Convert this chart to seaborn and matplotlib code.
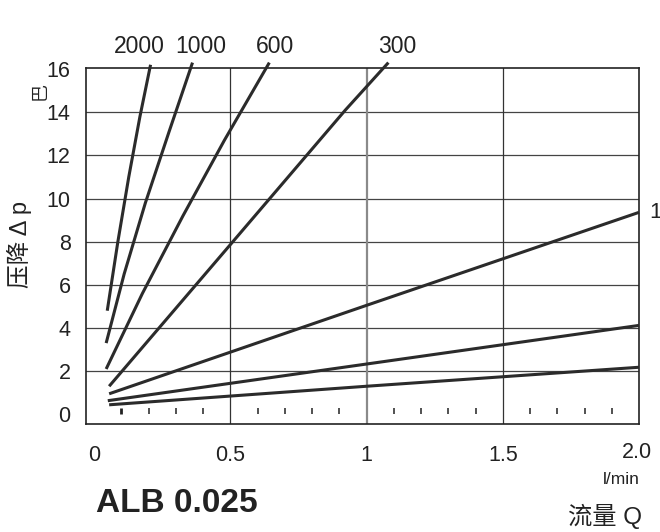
import matplotlib
matplotlib.use("Agg")
import matplotlib.pyplot as plt
import seaborn as sns
import pandas as pd

# ---- data ----
series_names = ["2000", "1000", "600", "300", "100", "50", "25"]
flow_2000 = [0.048, 0.087, 0.127, 0.168, 0.207]
dp_2000 = [4.8, 8.0, 11.0, 13.8, 16.2]
flow_1000 = [0.044, 0.110, 0.188, 0.275, 0.361]
dp_1000 = [3.3, 6.5, 9.8, 13.1, 16.3]
flow_600 = [0.044, 0.177, 0.326, 0.478, 0.643]
dp_600 = [2.1, 5.6, 9.2, 12.7, 16.3]
flow_300 = [0.055, 0.482, 0.922, 1.080]
dp_300 = [1.3, 7.6, 14.1, 16.3]
flow_100 = [0.055, 1.0, 2.0]
dp_100 = [0.95, 5.05, 9.36]
flow_50 = [0.05, 1.0, 2.0]
dp_50 = [0.63, 2.33, 4.12]
flow_25 = [0.055, 1.0, 2.0]
dp_25 = [0.44, 1.30, 2.18]

top_labels = ["2000", "1000", "600", "300"]
top_label_x = [0.166, 0.391, 0.664, 1.114]
right_label = "1"

yticks = [0, 2, 4, 6, 8, 10, 12, 14, 16]
xticks = [0, 0.5, 1, 1.5]
xtick_labels = ["0", "0.5", "1", "1.5"]
minor_marks = [0.1, 0.2, 0.3, 0.4, 0.6, 0.7, 0.8, 0.9,
               1.1, 1.2, 1.3, 1.4, 1.6, 1.7, 1.8, 1.9]

flows = [flow_2000, flow_1000, flow_600, flow_300, flow_100, flow_50, flow_25]
dps = [dp_2000, dp_1000, dp_600, dp_300, dp_100, dp_50, dp_25]
rows = []
for name, fx, dy in zip(series_names, flows, dps):
    for i, (a, b) in enumerate(zip(fx, dy)):
        rows.append({"series": name, "order": i, "Q": a, "dp": b})
df = pd.DataFrame(rows)

# ---- style ----
sns.set_theme(style="white")
plt.rcParams["font.family"] = ["Liberation Sans", "Noto Sans CJK SC", "DejaVu Sans"]

W, H = 660, 532
fig = plt.figure(figsize=(W / 100, H / 100), dpi=100)
ax = fig.add_axes([86 / W, (H - 424) / H, (639 - 86) / W, (424 - 68) / H])

line_color = "#2b2b2b"
sns.lineplot(data=df, x="Q", y="dp", hue="series", units="series",
             estimator=None, sort=False,
             palette={n: line_color for n in series_names},
             legend=False, linewidth=2.2, ax=ax)
for ln in ax.get_lines():
    ln.set_clip_on(False)
    ln.set_solid_capstyle("butt")
    ln.set_solid_joinstyle("round")
    ln.set_zorder(5)

ax.set_xlim(-0.03, 2.0)
ax.set_ylim(-0.45, 16.05)

# grid
for yv in yticks[1:-1]:
    ax.axhline(yv, color="#444444", lw=0.9, zorder=1)
for xv in [0.5, 1.5]:
    ax.axvline(xv, color="#333333", lw=0.9, zorder=1)
ax.axvline(1.0, color="#8a8a8a", lw=1.6, zorder=1)

# small marks along the bottom
for i, xm in enumerate(minor_marks):
    ax.vlines(xm, 0.0, 0.27, color="#222222", lw=2.0 if i == 0 else 1.1, zorder=2)

for sp in ax.spines.values():
    sp.set_color("#222222")
    sp.set_linewidth(1.2)
    sp.set_visible(True)

ax.set_yticks(yticks)
ax.set_yticklabels([str(v) for v in yticks])
ax.set_xticks(xticks)
ax.set_xticklabels(xtick_labels)
ax.tick_params(axis="y", length=0, pad=11, labelsize=15.5, labelcolor="#222222")
ax.tick_params(axis="x", length=0, pad=15, labelsize=15.5, labelcolor="#222222")
ax.set_xlabel("")
ax.set_ylabel("")

# labels for curves
for lab, lx in zip(top_labels, top_label_x):
    ax.text(lx, 17.06, lab, ha="center", va="center", fontsize=16.5,
            color="#222222", clip_on=False)
fig.text(649 / W, 1 - 213 / H, right_label, ha="left", va="center",
         fontsize=16, color="#222222")

# extra texts
fig.text(637 / W, 1 - 453 / H, "2.0", ha="center", va="center",
         fontsize=15.5, color="#222222")
fig.text(621 / W, 1 - 480 / H, "l/min", ha="center", va="center",
         fontsize=12.5, color="#222222")
fig.text(605 / W, 1 - 516 / H, "流量 Q", ha="center", va="center",
         fontsize=17.5, color="#222222")
fig.text(177 / W, 1 - 504 / H, "ALB 0.025", ha="center", va="center",
         fontsize=24, fontweight="bold", color="#222222")
fig.text(19.5 / W, 1 - 244 / H, "压降 Δ p", ha="center", va="center",
         rotation=90, fontsize=17, color="#222222")
fig.text(40 / W, 1 - 91 / H, "巴", ha="center", va="center",
         rotation=90, fontsize=13, color="#222222")

fig.savefig("out.png", dpi=100)
